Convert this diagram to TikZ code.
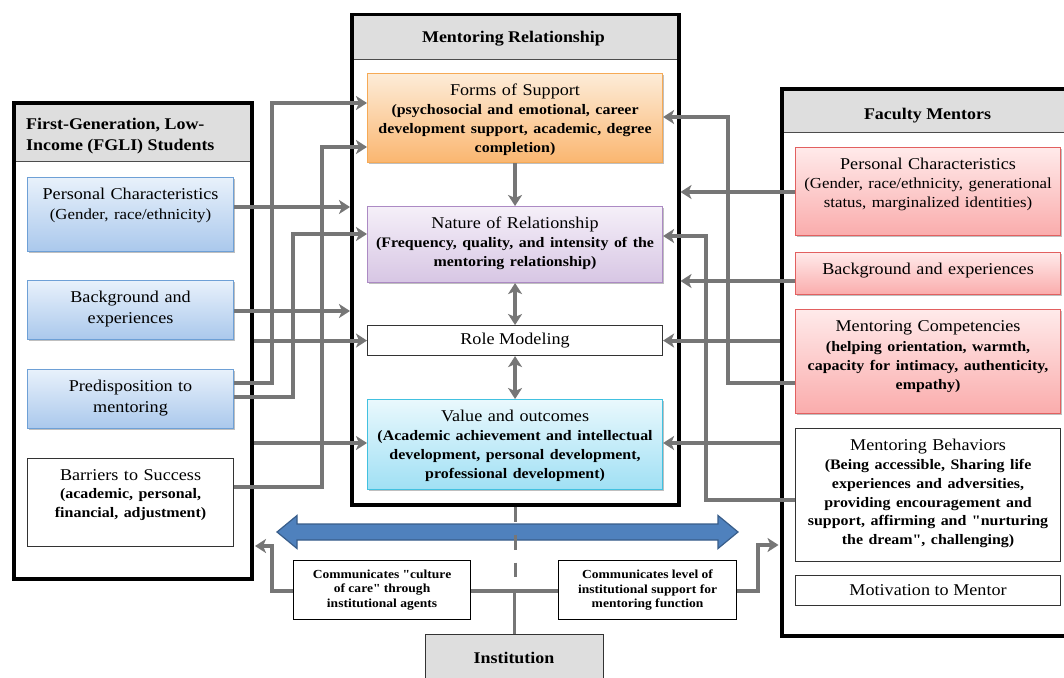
\documentclass[tikz,border=0pt]{standalone}
\usepackage{fontspec}
\setmainfont{Liberation Serif}[FakeStretch=1.1, Ligatures=TeXOff]
\usetikzlibrary{arrows.meta,shadows}

\definecolor{cgray}{RGB}{118,118,118}
\definecolor{hdrfill}{RGB}{222,222,222}
\definecolor{blT}{RGB}{232,241,251}
\definecolor{blB}{RGB}{170,200,236}
\definecolor{blD}{RGB}{110,160,214}
\definecolor{orT}{RGB}{253,236,216}
\definecolor{orB}{RGB}{250,182,112}
\definecolor{orD}{RGB}{246,170,86}
\definecolor{puT}{RGB}{245,239,248}
\definecolor{puB}{RGB}{215,198,228}
\definecolor{puD}{RGB}{172,138,196}
\definecolor{cyT}{RGB}{233,248,253}
\definecolor{cyB}{RGB}{160,224,244}
\definecolor{cyD}{RGB}{66,193,224}
\definecolor{rdT}{RGB}{255,234,234}
\definecolor{rdB}{RGB}{250,172,172}
\definecolor{rdD}{RGB}{226,96,96}
\definecolor{arrF}{RGB}{79,129,189}
\definecolor{arrD}{RGB}{56,93,138}

\newcommand\subR{\fontsize{15.3}{18.8}\selectfont}
\newcommand\subB{\fontsize{14.5}{18.8}\selectfont\bfseries}

\tikzset{
  frame/.style={draw=black, line width=3.5pt, anchor=north west, inner sep=0pt},
  hband/.style={draw=black!70, fill=hdrfill, line width=1.2pt, anchor=north west, inner sep=0pt},
  ibox/.style={anchor=north west, inner sep=0pt, line width=1.1pt},
  shad/.style={drop shadow={shadow xshift=1.5pt, shadow yshift=-1.5pt, opacity=0.25, fill=black}},
  bluebox/.style={ibox, shad, draw=blD, top color=blT, bottom color=blB},
  orbox/.style={ibox, shad, draw=orD, top color=orT, bottom color=orB},
  pubox/.style={ibox, shad, draw=puD, top color=puT, bottom color=puB},
  cybox/.style={ibox, shad, draw=cyD, top color=cyT, bottom color=cyB},
  rdbox/.style={ibox, shad, draw=rdD, top color=rdT, bottom color=rdB},
  whitebox/.style={ibox, draw=black!80, fill=white},
  ttl/.style={anchor=north, inner sep=0pt, align=center, font=\fontsize{16.5}{18.8}\selectfont},
  ttltwo/.style={ttl, font=\fontsize{16.5}{20.5}\selectfont},
  hdtxt/.style={inner sep=0pt, font=\fontsize{16.3}{21}\selectfont\bfseries},
  commtxt/.style={inner sep=0pt, align=center, font=\fontsize{12.3}{14.5}\selectfont\bfseries},
  arr/.style={draw=cgray, line width=4pt, -{Stealth[length=11pt,width=14pt,inset=3pt]}},
  darr/.style={draw=cgray, line width=4pt, {Stealth[length=11pt,width=14pt,inset=3pt]}-{Stealth[length=11pt,width=14pt,inset=3pt]}},
  plain/.style={draw=cgray, line width=3.5pt},
}

\begin{document}
\begin{tikzpicture}[x=1pt,y=-1pt]
\useasboundingbox (0,0) rectangle (1064,677);
\fill[white] (0,0) rectangle (1064,677);

% ---------- outer frames and header bands ----------
\node[hband, minimum width=238pt, minimum height=60pt] (fgh) at (12,101) {};
\node[frame, minimum width=238pt, minimum height=476pt] (fg) at (12,101) {};
\node[hband, minimum width=327pt, minimum height=46pt] (mrh) at (350,13) {};
\node[frame, minimum width=327pt, minimum height=490pt] (mr) at (350,13) {};
\node[hband, minimum width=295pt, minimum height=45pt] (fmh) at (780,87) {};
\node[frame, minimum width=295pt, minimum height=547pt] (fm) at (780,87) {};

\node[hdtxt, anchor=north west, align=left] (fg-t) at (26,118) {First-Generation, Low-\\Income (FGLI) Students};
\node[hdtxt, anchor=base] (mr-t) at (513.5,43) {Mentoring Relationship};
\node[hdtxt, anchor=base] (fm-t) at (927.5,119) {Faculty Mentors};

% ---------- left boxes ----------
\node[bluebox, minimum width=206pt, minimum height=74pt] (pcL) at (27,177) {};
\node[bluebox, minimum width=206pt, minimum height=59pt] (bgL) at (27,280) {};
\node[bluebox, minimum width=206pt, minimum height=59pt] (pred) at (27,369) {};
\node[whitebox, minimum width=206pt, minimum height=88pt] (barr) at (27,458) {};

\node[ttl, text width=226pt] (pcL-t) at ([yshift=-11pt]pcL.north) {Personal Characteristics\\[1.5pt]{\subR (Gender, race/ethnicity)}};
\node[ttltwo, text width=226pt] (bgL-t) at ([yshift=-11pt]bgL.north) {Background and\\experiences};
\node[ttltwo, text width=226pt] (pred-t) at ([yshift=-11pt]pred.north) {Predisposition to\\mentoring};
\node[ttl, text width=226pt] (barr-t) at ([yshift=-11pt]barr.north) {Barriers to Success\\{\subB (academic, personal,\\financial, adjustment)}};

% ---------- centre boxes ----------
\node[orbox, minimum width=295pt, minimum height=89pt] (forms) at (367,73) {};
\node[pubox, minimum width=295pt, minimum height=76pt] (nat) at (367,206) {};
\node[whitebox, minimum width=295pt, minimum height=30pt] (role) at (367,325) {};
\node[cybox, minimum width=295pt, minimum height=90pt] (val) at (367,399) {};

\node[ttl, text width=315pt] (forms-t) at ([yshift=-11pt]forms.north) {Forms of Support\\{\subB (psychosocial and emotional, career\\development support, academic, degree\\completion)}};
\node[ttl, text width=315pt] (nat-t) at ([yshift=-11pt]nat.north) {Nature of Relationship\\{\subB (Frequency, quality, and intensity of the\\mentoring relationship)}};
\node[inner sep=0pt, font=\fontsize{16.5}{18.8}\selectfont] (role-t) at (role.center) {Role Modeling};
\node[ttl, text width=315pt] (val-t) at ([yshift=-11pt]val.north) {Value and outcomes\\{\subB (Academic achievement and intellectual\\development, personal development,\\professional development)}};

% ---------- right boxes ----------
\node[rdbox, minimum width=265pt, minimum height=88pt] (pcR) at (795,147) {};
\node[rdbox, minimum width=265pt, minimum height=42pt] (bgR) at (795,252) {};
\node[rdbox, minimum width=265pt, minimum height=104pt] (comp) at (795,309) {};
\node[whitebox, minimum width=265pt, minimum height=133pt] (beh) at (795,428) {};
\node[whitebox, minimum width=265pt, minimum height=30pt] (mot) at (795,575) {};

\node[ttl, text width=285pt] (pcR-t) at ([yshift=-11pt]pcR.north) {Personal Characteristics\\{\subR (Gender, race/ethnicity, generational\\status, marginalized identities)}};
\node[ttl, text width=285pt] (bgR-t) at ([yshift=-11pt]bgR.north) {Background and experiences};
\node[ttl, text width=285pt] (comp-t) at ([yshift=-11pt]comp.north) {Mentoring Competencies\\[1.5pt]{\subB (helping orientation, warmth,\\capacity for intimacy, authenticity,\\empathy)}};
\node[ttl, text width=285pt] (beh-t) at ([yshift=-11pt]beh.north) {Mentoring Behaviors\\{\subB (Being accessible, Sharing life\\experiences and adversities,\\providing encouragement and\\support, affirming and "nurturing\\the dream", challenging)}};
\node[inner sep=0pt, font=\fontsize{16.5}{18.8}\selectfont] (mot-t) at (mot.center) {Motivation to Mentor};

% ---------- bottom ----------
\filldraw[fill=arrF, draw=arrD, line width=1.2pt]
  (277,532) -- (297,515.5) -- (297,524) -- (718,524) -- (718,515.5) -- (738,532)
  -- (718,548.5) -- (718,540) -- (297,540) -- (297,548.5) -- cycle;

\node[whitebox, draw=black, minimum width=177pt, minimum height=59pt] (commL) at (293,560) {};
\node[whitebox, draw=black, minimum width=178pt, minimum height=59pt] (commR) at (558,560) {};
\node[ibox, draw=black!80, fill=hdrfill, minimum width=178pt, minimum height=60pt] (inst) at (425,634) {};

\node[commtxt] (commL-t) at (commL.center) {Communicates "culture\\of care" through\\institutional agents};
\node[commtxt] (commR-t) at (commR.center) {Communicates level of\\institutional support for\\mentoring function};
\node[hdtxt, anchor=base] (inst-t) at (514,663) {Institution};

\draw[plain, dash pattern=on 15pt off 13pt] (mr.south) -- (mr.south |- 0,577);
\draw[plain] (inst.north) -- (inst.north |- 0,591);
\draw[plain] (commL.east |- 0,591) -- (commR.west |- 0,591);
\draw[arr, shorten >=1.5pt] (commL.west |- 0,591) -| (272,546) -- (fg.east |- 0,546);
\draw[arr, shorten >=1.5pt] (commR.east |- 0,591) -| (758,545) -- (fm.west |- 0,545);

% ---------- left connectors ----------
\draw[arr] (pred.east |- 0,383) -| (272,103) -- (forms.west |- 0,103);
\draw[arr] (barr.east |- 0,487) -| (322,147) -- (forms.west |- 0,147);
\draw[arr] (pred.east |- 0,397) -| (293,234) -- (nat.west |- 0,234);
\draw[arr] (pcL.east |- 0,207) -- (mr.west |- 0,207);
\draw[arr] (bgL.east |- 0,311) -- (mr.west |- 0,311);
\draw[arr] (fg.east |- role.west) -- (role.west);
\draw[arr] (fg.east |- 0,443) -- (val.west |- 0,443);

% ---------- right connectors ----------
\draw[arr] (comp.west |- 0,383) -| (728,117) -- (forms.east |- 0,117);
\draw[arr] (beh.west |- 0,500) -| (706,236) -- (nat.east |- 0,236);
\draw[arr] (pcR.west |- 0,192) -- (mr.east |- 0,192);
\draw[arr] (bgR.west |- 0,281) -- (mr.east |- 0,281);
\draw[arr] (fm.west |- role.east) -- (role.east);
\draw[arr] (fm.west |- 0,443) -- (val.east |- 0,443);

% ---------- centre connectors ----------
\draw[arr] (forms.south) -- (nat.north);
\draw[darr] (nat.south) -- (role.north);
\draw[darr] (role.south) -- (val.north);
\end{tikzpicture}
\end{document}
